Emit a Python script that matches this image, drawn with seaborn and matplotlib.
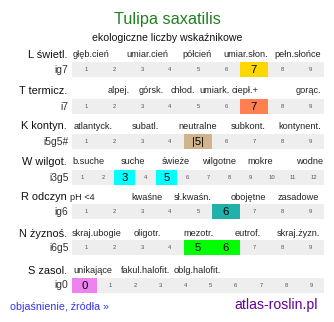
import matplotlib
matplotlib.use("Agg")
import matplotlib.pyplot as plt
import seaborn as sns
import pandas as pd

sns.set_theme(style="white")
plt.rcParams['font.family'] = ['Liberation Sans', 'DejaVu Sans']

title = "Tulipa saxatilis"
subtitle = "ekologiczne liczby wskaźnikowe"

row_names = ["L świetl.", "T termicz.", "K kontyn.", "W wilgot.", "R odczyn", "N żyznoś.", "S zasol."]
row_codes = ["ig7", "i7", "i5g5#", "i3g5", "ig6", "i6g5", "ig0"]
cell_values = [
    list(range(1, 10)),
    list(range(1, 10)),
    list(range(1, 10)),
    list(range(1, 13)),
    list(range(1, 10)),
    list(range(1, 10)),
    list(range(0, 10)),
]
highlight_values = [[7], [7], [5], [3, 5], [6], [5, 6], [0]]
highlight_texts = [["7"], ["7"], ["|5|"], ["3", "5"], ["6"], ["5", "6"], ["0"]]
highlight_colors = ["#ffd700", "#ff7f50", "#d2b48c", "#00ffff", "#20b2aa", "#00ff00", "#ee82ee"]

category_labels = [
    ["głęb.cień", "umiar.cień", "półcień", "umiar.słon.", "pełn.słońce"],
    ["alpej.", "górsk.", "chłod.", "umiark.", "ciepł.+", "gorąc."],
    ["atlantyck.", "subatl.", "neutralne", "subkont.", "kontynent."],
    ["b.suche", "suche", "świeże", "wilgotne", "mokre", "wodne"],
    ["pH <4", "kwaśne", "sł.kwaśn.", "obojętne", "zasadowe"],
    ["skraj.ubogie", "oligotr.", "mezotr.", "eutrof.", "skraj.żyzn."],
    ["unikające", "fakul.halofit.", "oblg.halofit."],
]
footer_link = "objaśnienie, źródła »"
footer_site = "atlas-roslin.pl"

# layout (pixel coordinates)
cat_x = [
    [91, 147, 197, 246, 298],
    [119, 151, 183, 214, 245, 308],
    [93, 145, 198, 248, 300],
    [88, 133, 176, 219, 260, 310],
    [82, 147, 193, 248, 298],
    [97, 147, 198, 248, 298],
    [93, 146, 197],
]
cell_top = [62, 99, 134, 170, 204, 240, 278]
label_base = [57.5, 93.5, 129, 164.5, 200, 236.5, 273.5]
strip_x0, strip_x1, cell_h = 72, 324, 15

W, H = 334, 322
fig = plt.figure(figsize=(W / 100, H / 100), dpi=100)
ax = fig.add_axes([0, 0, 1, 1])
ax.set_xlim(0, W)
ax.set_ylim(H, 0)
ax.axis("off")

rows = []
for i, vals in enumerate(cell_values):
    n = len(vals)
    w = (strip_x1 - strip_x0) / n
    for j, v in enumerate(vals):
        hl = v in highlight_values[i]
        rows.append(dict(row=i, value=v, x=strip_x0 + j * w, w=w,
                         color=highlight_colors[i] if hl else "#eeeeee", hl=hl,
                         text=highlight_texts[i][highlight_values[i].index(v)] if hl else str(v)))
cells = pd.DataFrame(rows)

# strip backgrounds
for i in range(len(cell_values)):
    ax.bar(strip_x0, cell_h, width=strip_x1 - strip_x0, bottom=cell_top[i], align="edge",
           color="#eeeeee", linewidth=0)
hl = cells[cells.hl]
ax.bar(hl.x, cell_h, width=hl.w, bottom=[cell_top[r] for r in hl.row], align="edge",
       color=hl.color, linewidth=0)

for _, c in cells.iterrows():
    cy = cell_top[c.row] + cell_h / 2
    if c.hl:
        ax.text(c.x + c.w / 2, cy + 0.3, c.text, ha="center", va="center", fontsize=8.2, color="black")
    else:
        ax.text(c.x + c.w / 2, cy, c.text, ha="center", va="center", fontsize=4.2, color="#555555")

for i in range(len(row_names)):
    ax.text(67, label_base[i], row_names[i], ha="right", va="baseline", fontsize=7.9, color="#111111")
    ax.text(68.5, cell_top[i] + 10.5, row_codes[i], ha="right", va="baseline", fontsize=7.4, color="#333333")
    for lab, x in zip(category_labels[i], cat_x[i]):
        ax.text(x, label_base[i] - 0.5, lab, ha="center", va="baseline", fontsize=6.6, color="#222222")

ax.text(W / 2, 24, title, ha="center", va="baseline", fontsize=11.7, color="#208020")
ax.text(W / 2 + 0.5, 41, subtitle, ha="center", va="baseline", fontsize=7.6, color="#111111")
ax.text(10, 309.5, footer_link, ha="left", va="baseline", fontsize=7.7, color="#3333ee")
ax.text(318, 308.5, footer_site, ha="right", va="baseline", fontsize=10.1, color="#660099")

fig.savefig("out.png", dpi=100)
